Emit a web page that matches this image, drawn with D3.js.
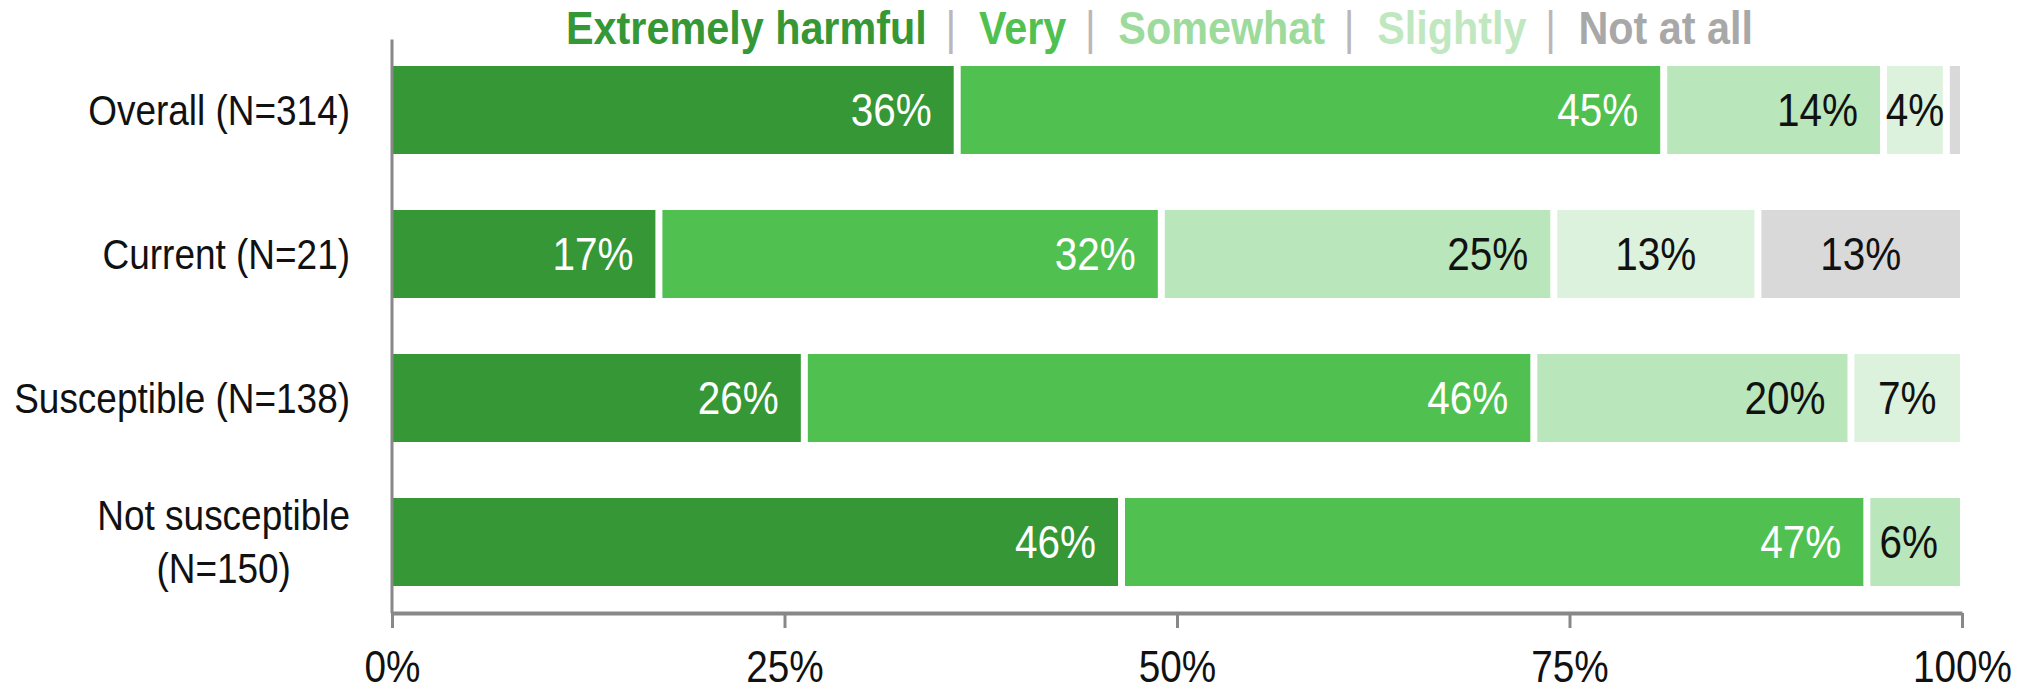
<!DOCTYPE html>
<html>
<head>
<meta charset="utf-8">
<script src="https://cdn.jsdelivr.net/npm/d3@7"></script>
<style>
  html, body { margin: 0; padding: 0; background: #ffffff; }
  svg text { font-family: "Liberation Sans", Arial, Helvetica, sans-serif; }
</style>
</head>
<body>
<svg id="chart" width="2031" height="691"></svg>
<script>
// Groups (rows) and response levels (stacked series)
const categories = ["Overall (N=314)", "Current (N=21)", "Susceptible (N=138)", "Not susceptible (N=150)"];
const seriesNames = ["Extremely harmful", "Very", "Somewhat", "Slightly", "Not at all"];

// Percent of each group giving each response
const extremely = [36, 17, 26, 46];
const very      = [45, 32, 46, 47];
const somewhat  = [14, 25, 20, 6];
const slightly  = [4, 13, 7, 0];
const notAtAll  = [1, 13, 0, 0];

// Axis ticks
const xTicks = [0, 0.25, 0.5, 0.75, 1];
const xTickLabels = ["0%", "25%", "50%", "75%", "100%"];

// Colours
const barColors    = ["#359735", "#50c150", "#b9e6ba", "#dcf2dc", "#d9d9d9"];
const legendColors = ["#359735", "#50c150", "#9cdb9c", "#bfe8c0", "#a8a8a8"];
const labelColors  = ["#ffffff", "#ffffff", "#111111", "#111111", "#111111"];

const SX = 0.88;           // horizontal squeeze applied to all text
const axisColor = "#888888";

const svg = d3.select("#chart");

function measure(str, size, weight) {
  const t = svg.append("text").attr("font-size", size)
    .attr("font-weight", weight || "normal").text(str);
  const w = t.node().getComputedTextLength() * SX;
  t.remove();
  return w;
}

// Build the table the stack layout needs
const seriesValues = [extremely, very, somewhat, slightly, notAtAll];
const rows = categories.map((c, i) => {
  const r = { category: c };
  seriesNames.forEach((s, k) => { r[s] = seriesValues[k][i]; });
  return r;
});

const stacked = d3.stack()
  .keys(seriesNames)
  .offset(d3.stackOffsetExpand)(rows);

const x = d3.scaleLinear().domain([0, 1]).range([392, 1962]);
const y = d3.scaleBand().domain(categories).range([39, 613])
  .paddingInner(0.389).paddingOuter(0.1875);

const GAP = 3.5;

// Bars
const layers = svg.append("g").attr("class", "bars")
  .selectAll("g").data(stacked).join("g")
  .attr("fill", (d, k) => barColors[k]);

function segBounds(d) {
  const x0 = x(d[0]) + (d[0] > 1e-6 ? GAP : 0);
  const x1 = x(d[1]) - (d[1] < 1 - 1e-6 ? GAP : 2);
  return [x0, x1];
}

layers.selectAll("rect")
  .data(d => d.filter(s => s[1] - s[0] > 1e-9))
  .join("rect")
  .attr("x", d => segBounds(d)[0])
  .attr("y", d => y(d.data.category))
  .attr("width", d => { const b = segBounds(d); return b[1] - b[0]; })
  .attr("height", y.bandwidth());

// Value labels (only where the text fits its segment)
const labelFont = 46;
stacked.forEach((layer, k) => {
  layer.forEach(d => {
    const v = d.data[layer.key];
    if (!(v > 0)) return;
    const b = segBounds(d);
    const txt = v + "%";
    if (measure(txt, labelFont) > (b[1] - b[0]) + 4) return;
    const cy = y(d.data.category) + y.bandwidth() / 2;
    const centred = k >= 3;
    const tx = centred ? (b[0] + b[1]) / 2 : b[1] - 22;
    svg.append("text")
      .attr("transform", `translate(${tx},${cy}) scale(${SX},1)`)
      .attr("dy", "0.35em")
      .attr("text-anchor", centred ? "middle" : "end")
      .attr("font-size", labelFont)
      .attr("fill", labelColors[k])
      .text(txt);
  });
});

// X axis
const xAxisG = svg.append("g")
  .attr("transform", "translate(0,613)")
  .call(d3.axisBottom(x)
    .tickValues(xTicks)
    .tickFormat((d, i) => xTickLabels[i])
    .tickSize(15)
    .tickSizeOuter(0)
    .tickPadding(23));
xAxisG.select(".domain").attr("stroke", axisColor).attr("stroke-width", 4);
xAxisG.selectAll(".tick line").attr("stroke", axisColor).attr("stroke-width", 3);
xAxisG.selectAll(".tick text")
  .attr("font-size", 44)
  .attr("font-family", null)
  .attr("fill", "#111111")
  .attr("transform", `scale(${SX},1)`);

// Y axis line
const yAxisG = svg.append("g")
  .attr("transform", "translate(391.5,0)")
  .call(d3.axisLeft(y).tickSize(0).tickSizeOuter(0).tickFormat(""));
yAxisG.selectAll(".tick").remove();
yAxisG.select(".domain").attr("stroke", axisColor).attr("stroke-width", 3);

// Category labels (wrapped when too wide, right-aligned block, centred lines)
const catFont = 42, catRight = 350, lineGap = 53.5, maxLabelW = 345;
categories.forEach(c => {
  let lines = [c];
  if (measure(c, catFont) > maxLabelW && c.indexOf(" (") > 0) {
    const p = c.indexOf(" (");
    lines = [c.slice(0, p), c.slice(p + 1)];
  }
  const cy = y(c) + y.bandwidth() / 2;
  const n = lines.length;
  const widths = lines.map(l => measure(l, catFont));
  const maxW = d3.max(widths);
  lines.forEach((l, i) => {
    const ly = cy + (i - (n - 1) / 2) * lineGap;
    const lx = n > 1 ? catRight - maxW / 2 : catRight;
    svg.append("text")
      .attr("transform", `translate(${lx},${ly}) scale(${SX},1)`)
      .attr("dy", "0.35em")
      .attr("text-anchor", n > 1 ? "middle" : "end")
      .attr("font-size", catFont)
      .attr("fill", "#111111")
      .text(l);
  });
});

// Legend across the top, items separated by bars
const legendFont = 47, legendBase = 44;
let lx = 566;
seriesNames.forEach((s, k) => {
  svg.append("text")
    .attr("transform", `translate(${lx},${legendBase}) scale(${SX},1)`)
    .attr("font-size", legendFont)
    .attr("font-weight", "bold")
    .attr("fill", legendColors[k])
    .text(s);
  lx += measure(s, legendFont, "bold");
  if (k < seriesNames.length - 1) {
    lx += 24;
    svg.append("text")
      .attr("transform", `translate(${lx},${legendBase}) scale(${SX},1)`)
      .attr("text-anchor", "middle")
      .attr("font-size", legendFont)
      .attr("fill", "#bbb6b8")
      .text("|");
    lx += 28;
  }
});
</script>
</body>
</html>
